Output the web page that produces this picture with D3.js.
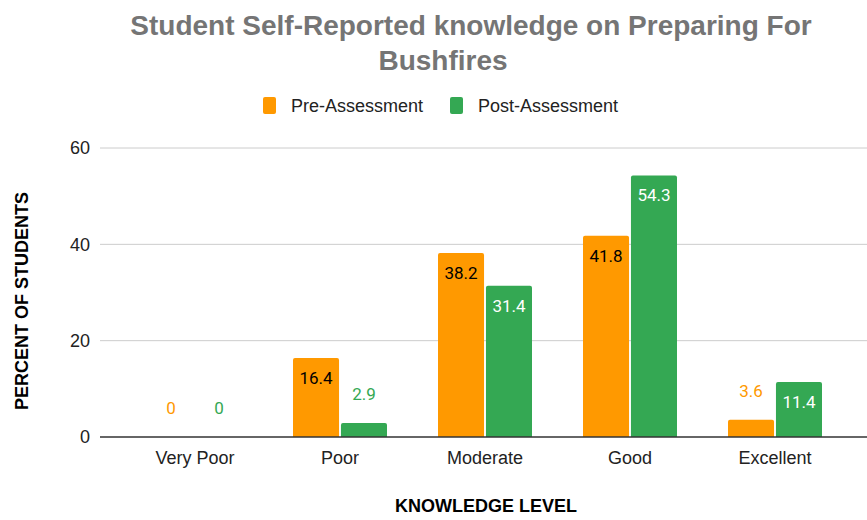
<!DOCTYPE html>
<html>
<head>
<meta charset="utf-8">
<script src="https://cdn.jsdelivr.net/npm/d3@7"></script>
<style>
  body { margin: 0; background: #fff; }
  svg { display: block; font-family: "Liberation Sans", Arial, sans-serif; }
</style>
</head>
<body>
<svg width="867" height="520"></svg>
<script>
var categories = ["Very Poor", "Poor", "Moderate", "Good", "Excellent"];
var seriesNames = ["Pre-Assessment", "Post-Assessment"];
var preValues = [0, 16.4, 38.2, 41.8, 3.6];
var postValues = [0, 2.9, 31.4, 54.3, 11.4];
var yTicks = [0, 20, 40, 60];
var colors = ["#ff9900", "#34a853"];
var insideText = ["#000", "#fff"];

var svg = d3.select("svg");

var x = d3.scaleBand().domain(categories).range([122.5, 847.5]);
var sub = d3.scaleBand().domain([0, 1]).range([x.bandwidth() / 2 - 47, x.bandwidth() / 2 + 47]).paddingInner(0.04);
var y = d3.scaleLinear().domain([0, 60]).range([437, 148]);

// gridlines
svg.append("g").selectAll("line")
  .data(yTicks.filter(function(d) { return d > 0; }))
  .enter().append("line")
  .attr("x1", 100).attr("x2", 867)
  .attr("y1", function(d) { return y(d); })
  .attr("y2", function(d) { return y(d); })
  .attr("stroke", "#cccccc").attr("stroke-width", 1);

// y tick labels
svg.append("g").selectAll("text")
  .data(yTicks)
  .enter().append("text")
  .attr("x", 90)
  .attr("y", function(d) { return y(d); })
  .attr("dy", "0.35em")
  .attr("text-anchor", "end")
  .attr("fill", "#222")
  .style("font-size", "18px")
  .text(function(d) { return d; });

var data = [];
categories.forEach(function(c, i) {
  data.push({cat: c, s: 0, v: preValues[i]});
  data.push({cat: c, s: 1, v: postValues[i]});
});

var bars = svg.append("g");
bars.selectAll("path")
  .data(data.filter(function(d) { return d.v > 0; }))
  .enter().append("path")
  .attr("fill", function(d) { return colors[d.s]; })
  .attr("d", function(d) {
    var x0 = x(d.cat) + sub(d.s), w = sub.bandwidth(), y0 = y(d.v), yb = y(0), r = 2;
    return "M" + x0 + "," + yb + "V" + (y0 + r) + "Q" + x0 + "," + y0 + " " + (x0 + r) + "," + y0 +
      "H" + (x0 + w - r) + "Q" + (x0 + w) + "," + y0 + " " + (x0 + w) + "," + (y0 + r) + "V" + yb + "Z";
  });

// value labels
svg.append("g").selectAll("text")
  .data(data)
  .enter().append("text")
  .attr("x", function(d) { return x(d.cat) + sub(d.s) + sub.bandwidth() / 2; })
  .attr("y", function(d) {
    var inside = y(0) - y(d.v) > 35;
    return inside ? y(d.v) + 20 : y(d.v) - 29;
  })
  .attr("dy", "0.35em")
  .attr("text-anchor", "middle")
  .style("font-family", "Roboto, sans-serif")
  .style("font-size", "17px")
  .attr("fill", function(d) {
    var inside = y(0) - y(d.v) > 35;
    return inside ? insideText[d.s] : colors[d.s];
  })
  .text(function(d) { return d.v; });

// baseline
svg.append("line")
  .attr("x1", 100).attr("x2", 867)
  .attr("y1", y(0)).attr("y2", y(0))
  .attr("stroke", "#333").attr("stroke-width", 1.5);

// x tick labels
svg.append("g").selectAll("text")
  .data(categories)
  .enter().append("text")
  .attr("x", function(d) { return x(d) + x.bandwidth() / 2; })
  .attr("y", 458)
  .attr("dy", "0.35em")
  .attr("text-anchor", "middle")
  .attr("fill", "#222")
  .style("font-size", "18px")
  .text(function(d) { return d; });

// axis titles
svg.append("text")
  .attr("x", 486).attr("y", 506)
  .attr("dy", "0.35em")
  .attr("text-anchor", "middle")
  .attr("fill", "#000")
  .style("font-size", "18px").style("font-weight", "bold")
  .text("KNOWLEDGE LEVEL");

svg.append("text")
  .attr("transform", "translate(22,301) rotate(-90)")
  .attr("dy", "0.35em")
  .attr("text-anchor", "middle")
  .attr("fill", "#000")
  .style("font-size", "18px").style("font-weight", "bold")
  .text("PERCENT OF STUDENTS");

// title
var title = svg.append("text")
  .attr("text-anchor", "middle")
  .attr("fill", "#757575")
  .style("font-size", "28px").style("font-weight", "bold");
title.append("tspan").attr("x", 471).attr("y", 35).text("Student Self-Reported knowledge on Preparing For");
title.append("tspan").attr("x", 443).attr("y", 70).text("Bushfires");

// legend
var legendX = [263, 450];
var legend = svg.append("g").selectAll("g")
  .data(seriesNames)
  .enter().append("g")
  .attr("transform", function(d, i) { return "translate(" + legendX[i] + ",98)"; });
legend.append("rect")
  .attr("width", 13).attr("height", 17).attr("y", -1).attr("rx", 2)
  .attr("fill", function(d, i) { return colors[i]; });
legend.append("text")
  .attr("x", 28).attr("y", 8)
  .attr("dy", "0.35em")
  .attr("fill", "#222")
  .style("font-size", "18px")
  .text(function(d) { return d; });
</script>
</body>
</html>
